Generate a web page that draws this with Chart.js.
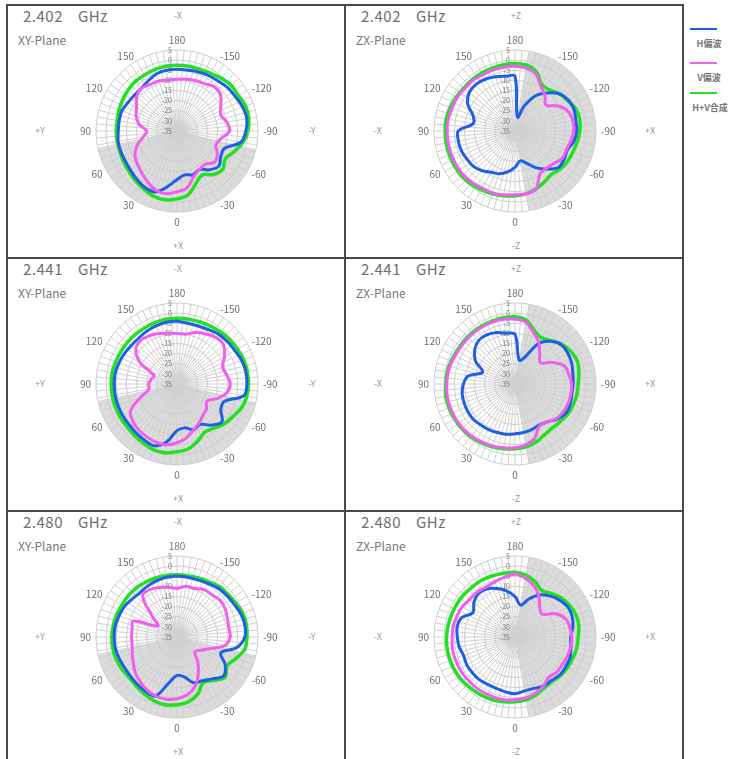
<!DOCTYPE html>
<html lang="ja">
<head>
<meta charset="UTF-8">
<title>放射パターン</title>
<script src="https://cdn.jsdelivr.net/npm/chart.js@4"></script>
<style>
  body { margin: 0; background: #fff; font-family: "Noto Sans CJK JP", "Noto Sans", sans-serif; }
  #page { position: relative; width: 734px; height: 759px; overflow: hidden; }
  .panel { position: absolute; width: 340px; height: 255px; border: 2px solid #4a4a4a; box-sizing: border-box; }
  .panel canvas { position: absolute; left: 49px; top: 5px; }
  .freq, .ghz { position: absolute; top: 1px; font-size: 15px; line-height: 18px; color: #6e6e6e; letter-spacing: 0.5px; }
  .freq { left: 15px; }
  .ghz { left: 70px; }
  .plane { position: absolute; left: 10px; top: 27px; font-size: 12px; line-height: 14px; color: #777; }
  .ax { position: absolute; font-size: 9px; line-height: 10px; color: #999; transform: translate(-50%, -50%); }
  .swatch { position: absolute; left: 690px; width: 27px; height: 2px; }
  .ltext { position: absolute; font-size: 9px; line-height: 11px; font-weight: bold; color: #777; transform: translate(-50%, -50%); white-space: nowrap; }
</style>
</head>
<body>
<div id="page">
  <div class="swatch" style="top:28px;background:#1f5fe6"></div>
  <div class="ltext" style="left:709px;top:43px">H偏波</div>
  <div class="swatch" style="top:62px;background:#f25ef0"></div>
  <div class="ltext" style="left:709px;top:77px">V偏波</div>
  <div class="swatch" style="top:92px;background:#22e022"></div>
  <div class="ltext" style="left:710px;top:107px">H+V合成</div>
</div>

<script>
// 角度（5度ごとのグリッド、上から時計回り）
const gridAngles = [180,-175,-170,-165,-160,-155,-150,-145,-140,-135,-130,-125,-120,-115,-110,-105,-100,-95,
  -90,-85,-80,-75,-70,-65,-60,-55,-50,-45,-40,-35,-30,-25,-20,-15,-10,-5,
  0,5,10,15,20,25,30,35,40,45,50,55,60,65,70,75,80,85,90,95,100,105,110,115,120,125,130,135,140,145,150,155,160,165,170,175];
// 測定値の角度（10度ごと）
const dataAngles = [180,-170,-160,-150,-140,-130,-120,-110,-100,-90,-80,-70,-60,-50,-40,-30,-20,-10,
  0,10,20,30,40,50,60,70,80,90,100,110,120,130,140,150,160,170];
const angleTicks = [180,-150,-120,-90,-60,-30,0,30,60,90,120,150];
const tickValues = [5,0,-5,-10,-15,-20,-25,-30,-35];

// 2.402 GHz
const xy2402H  = [-4.5,-4.5,-4,-3.5,-3,-2,-1.5,-0.5,0,-1, -3,-10,-10,-8,-10,-13,-12,-13,-11, -7,-3,-3,-4,-5,-5.5,-5.5,-5.5,-6, -6,-6,-7,-7.5,-7.5,-6.5,-5,-4.5];
const xy2402V  = [-9.5,-9,-8.5,-8,-6.5,-7,-10,-12,-10,-9, -13,-14.5,-12,-11,-13.5,-13,-11,-6.5,-5, -3.6,-4,-6,-8,-9.5,-11,-14,-18,-20, -16,-13.5,-12,-9,-7.5,-8.5,-8.7,-9.5];
const xy2402HV = [-2.5,-2.5,-2.5,-2,-1,0,0,1,1,0, -2,-5,-7.5,-5.5,-7,-10,-7.5,-3,-1.5, -0.5,-0.8,-2,-3,-4,-4.5,-5,-5,-5, -5,-4.5,-4,-3.5,-3,-3,-2.8,-2.5];
const zx2402H  = [-8,-28,-22,-15,-10.5,-6.5,-4.5,-4,-4.5,-4.5, -5.5,-7.5,-7,-7,-10.5,-14,-18,-20,-17, -14.5,-12.5,-11.5,-9.5,-8,-7.5,-6.8,-6.6,-7, -14,-13,-8,-5.5,-5,-5.5,-6.5,-7.5];
const zx2402V  = [-3,-3.5,-5,-9.5,-12,-15,-10.3,-7,-6,-6, -7,-8,-8,-10,-11,-10.4,-4.6,-3.5,-3.5, -3,-2.5,-2.5,-2,-1.5,-1.5,-1.5,-1.5,-1.5, -1.5,-2,-2,-2.5,-2.5,-3,-3,-3];
const zx2402HV = [-1.7,-2,-4,-8.5,-8.5,-6.3,-5,-3,-2.5,-3, -3.8,-4.6,-5,-5.8,-7,-6,-4.5,-3.5,-3, -2.5,-2,-1.5,-1,-0.5,-0.5,-0.5,-0.5,-0.5, -0.5,-1,-1.5,-2,-2,-2,-2,-1.8];

// 2.441 GHz
const xy2441H  = [-4,-4.5,-4.5,-4,-3,-2.5,-2,-1,-0.5,-0.5, -1.5,-10,-10,-6,-8.5,-12,-11,-13,-12, -6,-2.5,-3,-3.5,-4,-4,-4,-4,-4, -4,-4.5,-5,-5.5,-5.5,-5,-4.5,-4];
const xy2441V  = [-10,-10,-8,-6.5,-5,-5,-8,-11,-10,-8.7, -10,-14,-18,-16,-15,-13,-11,-8,-6, -4.5,-4.5,-5,-5.5,-6.5,-8.5,-16,-21,-21, -22,-23,-14,-8.5,-7,-7.5,-8.5,-9.5];
const xy2441HV = [-2.5,-2.5,-2.3,-2,-1.5,-1,-0.5,0,0.3,0.3, 0,-1,-3,-4.5,-6.5,-7.5,-5,-2.5,-1.5, -0.5,-0.5,-1.5,-2,-2.5,-2.5,-2.5,-2.5,-2.5, -2.5,-2.8,-3,-3,-3,-3,-2.8,-2.5];
const zx2441H  = [-10.5,-23,-21,-12,-7.5,-5,-4.8,-5.2,-6,-6.3, -6.5,-6,-6,-8,-10.5,-11.5,-11,-10.7,-10.4, -9.8,-9.5,-9,-8.7,-8,-8,-8.2,-8.5,-9.5, -11.7,-18,-12.5,-9,-7,-7,-8,-9.5];
const zx2441V  = [-3,-4,-8,-11.5,-16,-18.6,-13.7,-9,-8,-7, -7,-7,-7.5,-8.5,-10.5,-11,-6.5,-4.5,-3.5, -3,-2.5,-2,-1.5,-1.2,-1,-1,-1,-1.3, -1.5,-2,-2.5,-2.5,-2.5,-2.5,-2.5,-2.5];
const zx2441HV = [-1.8,-3,-7,-8.7,-7,-4.6,-3,-2.2,-3,-3.8, -4,-4.5,-5,-6,-6.5,-6,-4.5,-3.5,-3, -2.5,-2,-1.5,-1,-0.7,-0.5,-0.3,-0.3,-0.8, -1,-1.5,-2,-2,-2,-2,-2,-1.8];

// 2.480 GHz
const xy2480H  = [-5,-5,-5,-4.5,-3.5,-3,-2.5,-1.5,-1,-1.5, -5,-12,-7.5,-5,-8,-10,-11,-15,-16, -12,-4,-4,-4.5,-5,-5,-4.5,-4,-4, -4,-4.5,-5,-6,-6.5,-6,-5.5,-5];
const xy2480V  = [-11,-9.6,-9.5,-8,-8,-7,-7.5,-8.5,-9,-8.7, -11,-18,-22,-23.5,-19,-14,-9,-6,-4.5, -3.8,-4,-5,-6.5,-8,-10,-11.5,-12.5,-12.5, -12.5,-12,-24,-19,-8.5,-8,-9,-10];
const xy2480HV = [-4.3,-4.3,-4,-3.5,-2.5,-2.2,-1.5,-0.5,-0.2,-0.5, -1,-4,-6.5,-4,-7,-9,-5,-2.5,-1.5, -1,-1.5,-2.5,-3.5,-4,-3.5,-3,-2.8,-2.8, -3,-3.2,-3.5,-3.5,-3.5,-3.8,-4,-4.2];
const zx2480H  = [-15,-19,-15,-11,-8.5,-6.5,-5,-5,-6,-7.5, -7,-6,-6,-6,-7,-7,-8,-8,-7, -7.5,-8,-8,-7.5,-7.5,-7.5,-8,-7,-6.5, -6,-7,-11,-8.5,-7,-7.5,-9.5,-12];
const zx2480V  = [-4,-5.5,-8,-11.5,-16,-17.5,-12,-8.5,-7.5,-7, -7,-7.5,-8,-8,-9,-7,-5.5,-4.5,-4, -3.5,-3.5,-3.5,-3.5,-3.5,-3.5,-3.5,-3.5,-4, -4,-4.5,-5,-6,-6,-6.5,-6,-5];
const zx2480HV = [-3,-4,-6,-8.5,-7,-5,-3.8,-3,-3,-3.8, -4,-4.5,-5,-5.5,-6.4,-6,-4.5,-3.5,-3, -2.5,-2,-1.8,-1.5,-1.2,-1,-1,-1,-1.2, -1.5,-1.8,-2,-2.2,-2.5,-2.5,-2.8,-3];

// 網掛け範囲（度）
const xyShade = [-77, 78];
const zxShade = [-170, -10];

const panels = [
  { freq: '2.402', plane: 'XY-Plane', axes: ['-X', '+Y', '-Y', '+X'], shade: xyShade, H: xy2402H, V: xy2402V, HV: xy2402HV },
  { freq: '2.402', plane: 'ZX-Plane', axes: ['+Z', '-X', '+X', '-Z'], shade: zxShade, H: zx2402H, V: zx2402V, HV: zx2402HV },
  { freq: '2.441', plane: 'XY-Plane', axes: ['-X', '+Y', '-Y', '+X'], shade: xyShade, H: xy2441H, V: xy2441V, HV: xy2441HV },
  { freq: '2.441', plane: 'ZX-Plane', axes: ['+Z', '-X', '+X', '-Z'], shade: zxShade, H: zx2441H, V: zx2441V, HV: zx2441HV },
  { freq: '2.480', plane: 'XY-Plane', axes: ['-X', '+Y', '-Y', '+X'], shade: xyShade, H: xy2480H, V: xy2480V, HV: xy2480HV },
  { freq: '2.480', plane: 'ZX-Plane', axes: ['+Z', '-X', '+X', '-Z'], shade: zxShade, H: zx2480H, V: zx2480V, HV: zx2480HV }
];

const colH = '#1f5fe6', colV = '#f25ef0', colHV = '#22e022';

function angleIndex(deg) {
  return ((((deg - 180) % 360) + 360) % 360) / 5;
}

// 10度ごとの値を5度グリッドへ（間はnull）
function expand(values) {
  return gridAngles.map(a => {
    const i = dataAngles.indexOf(a);
    return i >= 0 ? values[i] : null;
  });
}

const polarDeco = {
  id: 'polarDeco',
  beforeDraw(chart, args, opts) {
    const r = chart.scales.r;
    const ctx = chart.ctx;
    const a0 = r.getIndexAngle(angleIndex(opts.shade[0])) - Math.PI / 2;
    const a1 = r.getIndexAngle(angleIndex(opts.shade[1])) - Math.PI / 2;
    ctx.save();
    ctx.fillStyle = '#dcdcdc';
    ctx.beginPath();
    ctx.moveTo(r.xCenter, r.yCenter);
    ctx.arc(r.xCenter, r.yCenter, r.drawingArea, a0, a1);
    ctx.closePath();
    ctx.fill();
    ctx.restore();
  },
  beforeDatasetsDraw(chart) {
    const r = chart.scales.r;
    const ctx = chart.ctx;
    ctx.save();
    ctx.fillStyle = '#7a7a7a';
    ctx.font = '7px "Noto Sans CJK JP", sans-serif';
    ctx.textAlign = 'right';
    ctx.textBaseline = 'middle';
    tickValues.forEach(v => {
      ctx.fillText(String(v), r.xCenter - 5, r.yCenter - r.getDistanceFromCenterForValue(v));
    });
    ctx.font = '10px "Noto Sans CJK JP", sans-serif';
    ctx.fillStyle = '#707070';
    angleTicks.forEach(a => {
      const idx = angleIndex(a);
      const p = r.getPointPosition(idx, r.drawingArea + 5);
      const deg = Math.round(r.getIndexAngle(idx) * 180 / Math.PI) % 360;
      ctx.textAlign = (deg === 0 || deg === 180) ? 'center' : (deg < 180 ? 'left' : 'right');
      ctx.textBaseline = deg === 0 ? 'bottom' : (deg === 180 ? 'top' : 'middle');
      ctx.fillText(String(a), p.x, p.y);
    });
    ctx.restore();
  }
};

const page = document.getElementById('page');
const colLeft = [6, 344];
const rowTop = [4, 257, 510];

panels.forEach((p, n) => {
  const div = document.createElement('div');
  div.className = 'panel';
  div.style.left = colLeft[n % 2] + 'px';
  div.style.top = rowTop[Math.floor(n / 2)] + 'px';
  if (n >= 4) div.style.height = '262px';
  div.innerHTML =
    '<span class="freq">' + p.freq + '</span><span class="ghz">GHz</span>' +
    '<span class="plane">' + p.plane + '</span>' +
    '<span class="ax" style="left:170px;top:10px">' + p.axes[0] + '</span>' +
    '<span class="ax" style="left:32px;top:125px">' + p.axes[1] + '</span>' +
    '<span class="ax" style="left:304px;top:125px">' + p.axes[2] + '</span>' +
    '<span class="ax" style="left:170px;top:240px">' + p.axes[3] + '</span>';
  const canvas = document.createElement('canvas');
  canvas.width = 240;
  canvas.height = 240;
  div.appendChild(canvas);
  page.appendChild(div);

  new Chart(canvas.getContext('2d'), {
    type: 'radar',
    data: {
      labels: gridAngles,
      datasets: [
        { label: 'V偏波', data: expand(p.V), borderColor: colV, order: 0 },
        { label: 'H偏波', data: expand(p.H), borderColor: colH, order: 1 },
        { label: 'H+V合成', data: expand(p.HV), borderColor: colHV, borderWidth: 3.5, order: 2 }
      ]
    },
    options: {
      responsive: false,
      animation: false,
      layout: { padding: 39 },
      datasets: {
        radar: { fill: false, spanGaps: true, tension: 0.35, borderWidth: 3, pointRadius: 0 }
      },
      plugins: {
        legend: { display: false },
        tooltip: { enabled: false },
        polarDeco: { shade: p.shade }
      },
      scales: {
        r: {
          min: -35,
          max: 5,
          ticks: { display: false, stepSize: 5 },
          pointLabels: { display: false },
          grid: { circular: true, color: '#cccccc' },
          angleLines: { color: '#d0d0d0' }
        }
      }
    },
    plugins: [polarDeco]
  });
});
</script>
</body>
</html>
